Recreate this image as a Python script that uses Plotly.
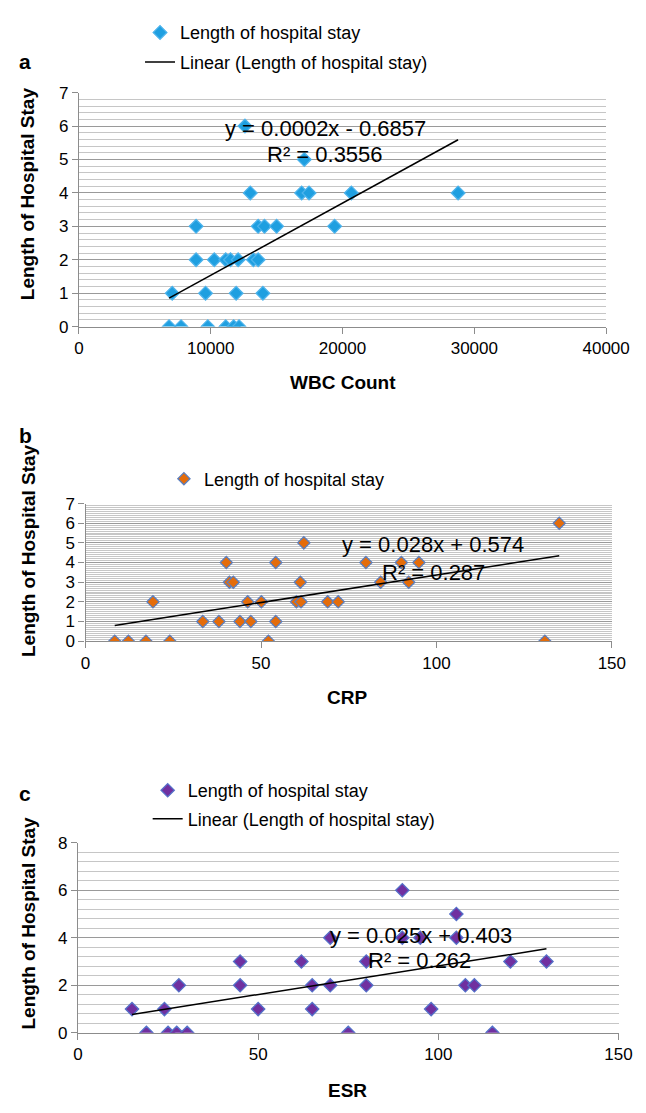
import numpy as np
import plotly.graph_objects as go

# ---------------- data ----------------
wbc = [12600, 17100, 13000, 16900, 17460, 20670, 28770,
       8890, 13600, 14080, 15000, 19400,
       8890, 10270, 11140, 11500, 12080, 13240, 13600,
       7080, 9610, 11930, 13960,
       6840, 7750, 9780, 11140, 11740, 12150]
los_a = [6, 5, 4, 4, 4, 4, 4,
         3, 3, 3, 3, 3,
         2, 2, 2, 2, 2, 2, 2,
         1, 1, 1, 1,
         0, 0, 0, 0, 0, 0]

crp = [135, 62.2, 40.1, 54.2, 79.9, 90.0, 95.0,
       41.0, 42.1, 61.2, 84.1, 92.1,
       19.2, 46.2, 50.1, 60.1, 61.4, 69.0, 72.0,
       33.4, 38.0, 44.0, 47.1, 54.2,
       8.3, 12.2, 17.2, 24.0, 52.1, 130.9]
los_b = [6, 5, 4, 4, 4, 4, 4,
         3, 3, 3, 3, 3,
         2, 2, 2, 2, 2, 2, 2,
         1, 1, 1, 1, 1,
         0, 0, 0, 0, 0, 0]

esr = [90, 105,
       70, 90, 95, 105,
       45, 62, 80, 120, 130,
       28, 45, 65, 70, 80, 107.5, 110,
       15, 24, 50, 65, 98,
       19, 25, 27.4, 30.3, 75, 115]
los_c = [6, 5,
         4, 4, 4, 4,
         3, 3, 3, 3, 3,
         2, 2, 2, 2, 2, 2, 2,
         1, 1, 1, 1, 1,
         0, 0, 0, 0, 0, 0]

eq_a = ["y = 0.0002x - 0.6857", "R² = 0.3556"]
eq_b = ["y = 0.028x + 0.574", "R² = 0.287"]
eq_c = ["y = 0.025x + 0.403", "R² = 0.262"]

x_titles = ["WBC Count", "CRP", "ESR"]
y_title = "Length of Hospital Stay"
panel_letters = ["a", "b", "c"]
series_name = "Length of hospital stay"
trend_name = "Linear (Length of hospital stay)"

W, H = 646, 1113
FONT = "Liberation Sans, Arial, sans-serif"


def fx(px):
    return px / W


def fy(py):
    return 1 - py / H


fig = go.Figure()


def trend(x, y):
    m, b = np.polyfit(x, y, 1)
    xs = np.array([min(x), max(x)])
    return xs, m * xs + b


panels = [
    dict(x=wbc, y=los_a, xa="x", ya="y", fill="#1f9fe0", edge="#4cb3ec", size=10.5,
         lg="legend", lg2="legend2"),
    dict(x=crp, y=los_b, xa="x2", ya="y2", fill="#e46c0a", edge="#5b7fbf", size=9.4,
         lg="legend3", lg2=None),
    dict(x=esr, y=los_c, xa="x3", ya="y3", fill="#7030a0", edge="#5470c8", size=10.2,
         lg="legend4", lg2="legend5"),
]

for p in panels:
    fig.add_trace(go.Scatter(
        x=p["x"], y=p["y"], mode="markers", name=series_name,
        xaxis=p["xa"], yaxis=p["ya"], legend=p["lg"],
        marker=dict(symbol="diamond", size=p["size"], color=p["fill"],
                    line=dict(color=p["edge"], width=1.3)),
        showlegend=True))
    tx, ty = trend(p["x"], p["y"])
    fig.add_trace(go.Scatter(
        x=tx, y=ty, mode="lines", name=trend_name,
        xaxis=p["xa"], yaxis=p["ya"], legend=p["lg2"] if p["lg2"] else "legend",
        line=dict(color="black", width=1.5),
        showlegend=p["lg2"] is not None))

# ---------------- axes ----------------
axis_common = dict(
    showline=True, linecolor="#8c8c8c", linewidth=1.3,
    ticks="outside", tickcolor="#8c8c8c", ticklen=6, tickwidth=1.3,
    tickfont=dict(family=FONT, size=17, color="black"),
    zeroline=False,
)

# panel geometry in pixels: (x0, x1, ytop, ybottom)
geo = [(69, 621, 77, 315), (76, 627, 495, 635), (68, 634, 840, 1033.5)]
xranges = [[0, 40000], [0, 150], [0, 150]]
xdticks = [10000, 50, 50]
yranges = [[0, 7], [0, 7], [0, 8]]
ydticks = [1, 1, 2]
yminor = [0.2, 0.1, 0.4]

for i, (x0, x1, yt, yb) in enumerate(geo):
    sfx = "" if i == 0 else str(i + 1)
    fig.update_layout(**{
        "xaxis" + sfx: dict(axis_common, domain=[fx(x0), fx(x1)], range=xranges[i],
                            dtick=xdticks[i], tick0=0, showgrid=False, tickformat="d",
                            anchor="y" + sfx),
        "yaxis" + sfx: dict(axis_common, domain=[fy(yb), fy(yt)], range=yranges[i],
                            dtick=ydticks[i], tick0=0, showgrid=True,
                            gridcolor="#9a9a9a", gridwidth=1.3,
                            minor=dict(dtick=yminor[i], tick0=0, showgrid=True,
                                       gridcolor="#c6c6c6", gridwidth=1, ticks=""),
                            anchor="x" + sfx),
    })

# ---------------- legends ----------------
leg_font = dict(family=FONT, size=18, color="black")


def legend_at(px, py):
    return dict(x=fx(px), y=fy(py), xanchor="left", yanchor="middle",
                bgcolor="rgba(0,0,0,0)", font=leg_font, borderwidth=0,
                itemwidth=30)


fig.update_layout(
    legend=legend_at(133, 16),
    legend2=legend_at(133, 46),
    legend3=legend_at(158, 470),
    legend4=legend_at(141, 787),
    legend5=legend_at(141, 816),
)

# ---------------- annotations ----------------
ann = []
eq_font = dict(family=FONT, size=22, color="black")
title_font = dict(family=FONT, size=19, color="black")

eq_pos = [((18700, 5.94), (18700, 5.15)), ((99.1, 4.9), (99.1, 3.5)),
          ((95.1, 4.08), (94.8, 3.04))]
eqs = [eq_a, eq_b, eq_c]
for i in range(3):
    sfx = "" if i == 0 else str(i + 1)
    for j in range(2):
        ann.append(dict(x=eq_pos[i][j][0], y=eq_pos[i][j][1], xref="x" + sfx, yref="y" + sfx,
                        text=eqs[i][j], showarrow=False, font=eq_font,
                        xanchor="center", yanchor="middle"))

# letters
letter_pos = [(13, 45), (13, 426), (13, 790)]
for L, (px, py) in zip(panel_letters, letter_pos):
    ann.append(dict(x=fx(px), y=fy(py), xref="paper", yref="paper", text="<b>%s</b>" % L,
                    showarrow=False, font=dict(family=FONT, size=21, color="black"),
                    xanchor="center", yanchor="middle"))

# y titles
ytitle_pos = [(16, 180), (16, 543), (16, 922)]
for (px, py) in ytitle_pos:
    ann.append(dict(x=fx(px), y=fy(py), xref="paper", yref="paper",
                    text="<b>%s</b>" % y_title, textangle=-90, showarrow=False,
                    font=title_font, xanchor="center", yanchor="middle"))

# x titles
xtitle_pos = [(345, 372), (350, 692), (350, 1092)]
for t, (px, py) in zip(x_titles, xtitle_pos):
    ann.append(dict(x=fx(px), y=fy(py), xref="paper", yref="paper",
                    text="<b>%s</b>" % t, showarrow=False, font=title_font,
                    xanchor="center", yanchor="middle"))

fig.update_layout(
    width=W, height=H, margin=dict(l=0, r=0, t=0, b=0),
    paper_bgcolor="white", plot_bgcolor="white",
    annotations=ann, font=dict(family=FONT),
)

fig.write_html("out.html")
